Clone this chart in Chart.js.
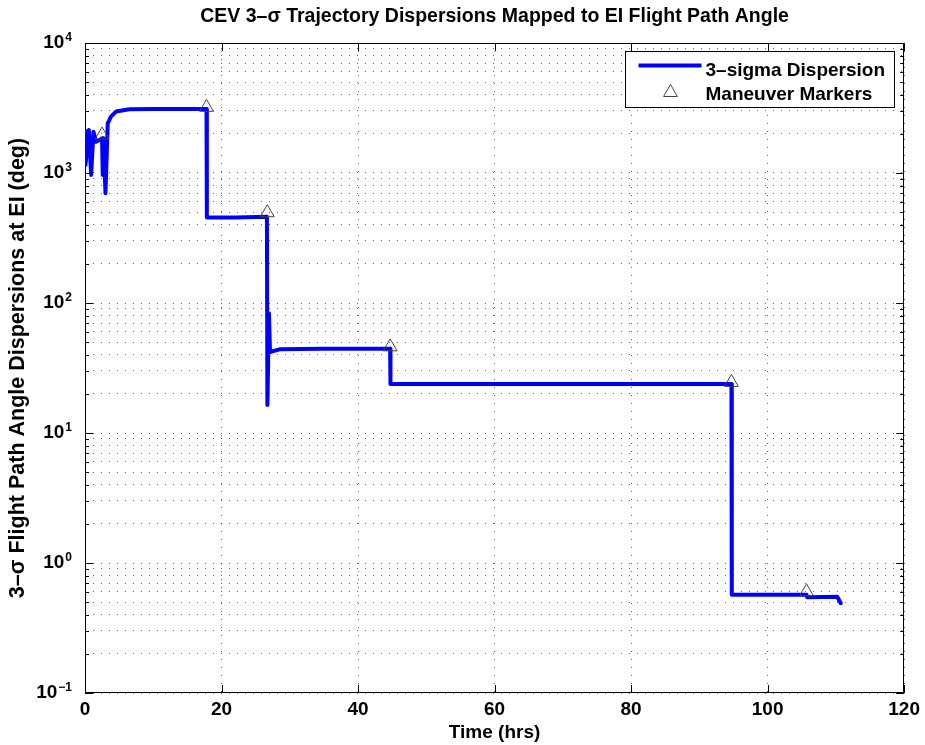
<!DOCTYPE html>
<html>
<head>
<meta charset="utf-8">
<script src="https://cdn.jsdelivr.net/npm/chart.js@4/dist/chart.umd.min.js"></script>
<style>
  html, body { margin: 0; padding: 0; background: #fff; }
  canvas { display: block; }
</style>
</head>
<body>
<canvas id="chart" width="925" height="745"></canvas>
<script>
// dispersion curve (hours, degrees)
const lineTimes = [0, 0.07, 0.56, 0.9, 1.24, 1.63, 2.2, 2.5, 2.6, 2.7, 3.0, 3.33, 3.8, 4.55, 6.5, 10, 17.8,
  17.85, 22, 26.65, 26.72, 26.95, 27.1, 28.5, 35, 44.7,
  44.75, 60, 80, 94.7, 94.75, 100, 105.7, 105.8, 110.2, 110.7];
const lineValues = [2100, 1150, 2140, 965, 2080, 1740, 1800, 1850, 965, 1850, 700, 2410, 2710, 2970, 3090, 3100, 3100,
  455, 455, 460, 16.4, 83, 42, 44, 44.5, 44.5,
  23.8, 23.8, 23.8, 23.8, 0.57, 0.57, 0.57, 0.545, 0.55, 0.49];

// maneuver markers
const markerTimes = [2.5, 17.8, 26.7, 44.7, 94.7, 105.7];
const markerValues = [1960, 3200, 495, 46, 24.5, 0.6];

const xTicks = [0, 20, 40, 60, 80, 100, 120];
const yDecades = [-1, 0, 1, 2, 3, 4];

const FONT = '"Liberation Sans", Arial, Helvetica, sans-serif';
const BLUE = '#0000ff';

// every 1..9 x 10^n between the decades, for the log grid
const yTickValues = [];
yDecades.forEach((d, i) => {
  const kMax = i === yDecades.length - 1 ? 1 : 9;
  for (let k = 1; k <= kMax; k++) yTickValues.push(Number((k * Math.pow(10, d)).toPrecision(3)));
});
const isMajor = v => Math.abs(Math.log10(v) - Math.round(Math.log10(v))) < 1e-9;

Chart.defaults.font.family = FONT;
Chart.defaults.color = '#000';

// MATLAB-like box, inside ticks, superscript decade labels and the legend
const matlabAxes = {
  id: 'matlabAxes',
  beforeDatasetsDraw(chart) {
    const {ctx, chartArea: a, scales: {x, y}} = chart;
    ctx.save();
    ctx.strokeStyle = '#000';
    ctx.lineWidth = 1;
    ctx.beginPath();
    xTicks.forEach(v => {
      const px = Math.round(x.getPixelForValue(v)) + 0.5;
      ctx.moveTo(px, a.bottom); ctx.lineTo(px, a.bottom - 8);
      ctx.moveTo(px, a.top); ctx.lineTo(px, a.top + 8);
    });
    yTickValues.forEach(v => {
      const py = Math.round(y.getPixelForValue(v)) + 0.5;
      const len = isMajor(v) ? 8 : 4;
      ctx.moveTo(a.left, py); ctx.lineTo(a.left + len, py);
      ctx.moveTo(a.right, py); ctx.lineTo(a.right - len, py);
    });
    ctx.stroke();
    ctx.strokeRect(Math.round(a.left) + 0.5, Math.round(a.top) + 0.5,
      Math.round(a.right - a.left) - 1, Math.round(a.bottom - a.top) - 1);
    ctx.restore();
  },
  afterDraw(chart) {
    const {ctx, chartArea: a, scales: {y}} = chart;
    ctx.save();
    ctx.fillStyle = '#000';
    // y tick labels 10^n
    yDecades.forEach(d => {
      const py = y.getPixelForValue(Math.pow(10, d));
      const exp = d < 0 ? '\u2212' + Math.abs(d) : String(d);
      ctx.font = 'bold 12px ' + FONT;
      const ew = ctx.measureText(exp).width;
      const right = a.left - 13;
      ctx.textAlign = 'left';
      ctx.textBaseline = 'alphabetic';
      ctx.fillText(exp, right - ew, py - 2);
      ctx.font = 'bold 19px ' + FONT;
      ctx.textAlign = 'right';
      ctx.fillText('10', right - ew - 1, py + 5);
    });

    // legend
    const bx = Math.round(a.right) - 278.5, by = Math.round(a.top) + 8.5, bw = 269, bh = 56;
    ctx.fillStyle = '#fff';
    ctx.fillRect(bx, by, bw, bh);
    ctx.strokeStyle = '#000';
    ctx.lineWidth = 1;
    ctx.strokeRect(bx, by, bw, bh);
    ctx.strokeStyle = BLUE;
    ctx.lineWidth = 4;
    ctx.beginPath();
    ctx.moveTo(bx + 13, by + 14);
    ctx.lineTo(bx + 76, by + 14);
    ctx.stroke();
    ctx.strokeStyle = '#444';
    ctx.fillStyle = 'rgba(0,0,0,0)';
    ctx.lineWidth = 1;
    Chart.helpers.drawPoint(ctx, {pointStyle: 'triangle', radius: 8, rotation: 0, borderWidth: 1}, bx + 45, by + 41);
    ctx.fillStyle = '#000';
    ctx.font = 'bold 19px ' + FONT;
    ctx.textAlign = 'left';
    ctx.textBaseline = 'alphabetic';
    ctx.fillText('3\u2013sigma Dispersion', bx + 80, by + 24);
    ctx.fillText('Maneuver Markers', bx + 80, by + 48);
    ctx.restore();
  }
};

const gridDots = {
  color: 'rgba(0,0,0,0.6)',
  lineWidth: 1,
  drawTicks: false
};

new Chart(document.getElementById('chart').getContext('2d'), {
  type: 'line',
  data: {
    datasets: [{
      label: '3\u2013sigma Dispersion',
      data: lineTimes.map((t, i) => ({x: t, y: lineValues[i]})),
      borderColor: BLUE,
      borderWidth: 4,
      borderJoinStyle: 'round',
      borderCapStyle: 'round',
      pointRadius: 0,
      tension: 0,
      fill: false,
      order: 2
    }, {
      label: 'Maneuver Markers',
      data: markerTimes.map((t, i) => ({x: t, y: markerValues[i]})),
      showLine: false,
      pointStyle: 'triangle',
      pointRadius: 8,
      pointBorderWidth: 1,
      pointBorderColor: '#444',
      pointBackgroundColor: 'rgba(0,0,0,0)',
      order: 1
    }]
  },
  options: {
    responsive: false,
    devicePixelRatio: 1,
    animation: false,
    layout: {padding: {left: 0, right: 18, top: 0, bottom: 0}},
    plugins: {
      legend: {display: false},
      tooltip: {enabled: false},
      title: {
        display: true,
        fullSize: false,
        text: 'CEV 3\u2013\u03c3 Trajectory Dispersions Mapped to EI Flight Path Angle',
        font: {size: 19.5, weight: 'bold'},
        color: '#000',
        padding: {top: 5, bottom: 14.6}
      }
    },
    scales: {
      x: {
        type: 'linear',
        min: 0,
        max: 120,
        afterBuildTicks: s => { s.ticks = xTicks.map(v => ({value: v})); },
        afterFit: s => { s.height = 52; },
        ticks: {font: {size: 19, weight: 'bold'}, color: '#000', padding: 5, maxRotation: 0},
        grid: gridDots,
        border: {display: false, dash: [1, 7]},
        title: {display: true, text: 'Time (hrs)', font: {size: 19, weight: 'bold'}, color: '#000', padding: {top: 0, bottom: 1}}
      },
      y: {
        type: 'logarithmic',
        min: 0.1,
        max: 10000,
        afterBuildTicks: s => { s.ticks = yTickValues.map(v => ({value: v})); },
        afterFit: s => { s.width = 85; },
        ticks: {display: false},
        grid: gridDots,
        border: {display: false, dash: [1, 7]},
        title: {display: true, text: '3\u2013\u03c3 Flight Path Angle Dispersions at EI (deg)', font: {size: 21.5, weight: 'bold'}, color: '#000', padding: {top: 5, bottom: 0}}
      }
    }
  },
  plugins: [matlabAxes]
});
</script>
</body>
</html>
